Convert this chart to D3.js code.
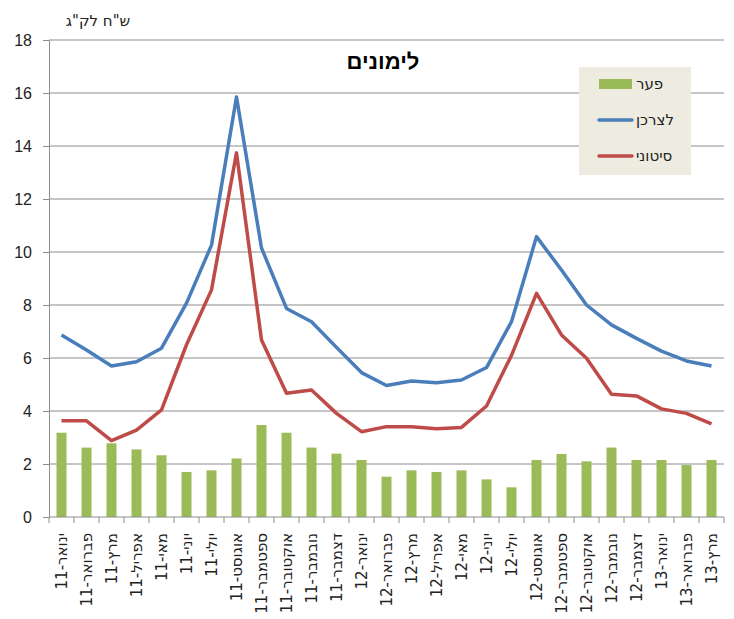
<!DOCTYPE html>
<html>
<head>
<meta charset="utf-8">
<script src="https://cdn.jsdelivr.net/npm/d3@7"></script>
<style>
body { margin: 0; background: #fff; }
svg { font-family: "Liberation Sans", Arial, sans-serif; }
.heb { font-family: "DejaVu Sans", Tahoma, sans-serif; }
</style>
</head>
<body>
<svg id="chart" width="734" height="619"></svg>
<script>
// months, Jan-11 .. Mar-13
var months = ["ינואר-11","פברואר-11","מרץ-11","אפריל-11","מאי-11","יוני-11","יולי-11","אוגוסט-11","ספטמבר-11","אוקטובר-11","נובמבר-11","דצמבר-11",
	"ינואר-12","פברואר-12","מרץ-12","אפריל-12","מאי-12","יוני-12","יולי-12","אוגוסט-12","ספטמבר-12","אוקטובר-12","נובמבר-12","דצמבר-12",
	"ינואר-13","פברואר-13","מרץ-13"];

var consumer = [6.87,6.3,5.7,5.86,6.37,8.07,10.26,15.85,10.15,7.87,7.37,6.4,
	5.45,4.96,5.13,5.07,5.17,5.64,7.37,10.58,9.32,8.0,7.25,6.74,6.26,5.89,5.7];

var wholesale = [3.63,3.63,2.88,3.28,4.04,6.5,8.57,13.74,6.68,4.67,4.79,3.91,
	3.22,3.41,3.41,3.33,3.38,4.19,6.1,8.44,6.87,5.99,4.63,4.57,4.08,3.91,3.51];

var gap = [3.18,2.62,2.78,2.55,2.33,1.7,1.76,2.21,3.47,3.18,2.62,2.39,
	2.15,1.52,1.76,1.7,1.76,1.42,1.12,2.15,2.38,2.1,2.62,2.15,2.15,1.96,2.15];

var yTicks = [0,2,4,6,8,10,12,14,16,18];

var margin = {top: 40, left: 49, right: 10, bottom: 102};
var width = 734 - margin.left - margin.right,
	height = 619 - margin.top - margin.bottom;

var svg = d3.select("#chart");
var g = svg.append("g").attr("transform", "translate(" + margin.left + "," + margin.top + ")");

var x = d3.scaleBand().domain(months).range([0, width]).paddingInner(0.6).paddingOuter(0.3);
var xb = d3.scaleBand().domain(months).range([0, width]);
var y = d3.scaleLinear().domain([0, 18]).range([height, 0]);

// gridlines
g.selectAll("line.grid").data(yTicks.slice(1)).enter().append("line")
	.attr("class", "grid")
	.attr("x1", 0).attr("x2", width)
	.attr("y1", function(d) { return y(d); }).attr("y2", function(d) { return y(d); })
	.attr("stroke", "#8c8c8c").attr("stroke-width", 1);

// y axis
var yAxis = g.append("g").call(d3.axisLeft(y).tickValues(yTicks).tickSize(6).tickSizeOuter(0));
yAxis.select(".domain").attr("stroke", "#8c8c8c");
yAxis.selectAll(".tick line").attr("stroke", "#8c8c8c");
yAxis.selectAll(".tick text").attr("x", -17).style("font-family", "'Liberation Sans', Arial, sans-serif")
	.style("font-size", "16px").attr("fill", "#222");

// bars
g.selectAll("rect.bar").data(gap).enter().append("rect")
	.attr("class", "bar")
	.attr("x", function(d, i) { return x(months[i]); })
	.attr("width", x.bandwidth())
	.attr("y", function(d) { return y(d); })
	.attr("height", function(d) { return height - y(d); })
	.attr("fill", "#9bbb59");

// lines
var line = d3.line()
	.x(function(d, i) { return xb(months[i]) + xb.bandwidth() / 2; })
	.y(function(d) { return y(d); });

g.append("path").datum(consumer).attr("d", line)
	.attr("fill", "none").attr("stroke", "#4a7ebb").attr("stroke-width", 3.5).attr("stroke-linejoin", "round");
g.append("path").datum(wholesale).attr("d", line)
	.attr("fill", "none").attr("stroke", "#be4b48").attr("stroke-width", 3.5).attr("stroke-linejoin", "round");

// x axis
var xAxis = g.append("g").attr("transform", "translate(0," + height + ")");
xAxis.append("line").attr("x1", 0).attr("x2", width).attr("stroke", "#8c8c8c");
xAxis.selectAll("line.tk").data(months.concat(["end"])).enter().append("line")
	.attr("class", "tk")
	.attr("x1", function(d, i) { return i * xb.step(); })
	.attr("x2", function(d, i) { return i * xb.step(); })
	.attr("y1", 0).attr("y2", 6)
	.attr("stroke", "#8c8c8c");
xAxis.selectAll("text").data(months).enter().append("text")
	.attr("class", "heb")
	.attr("transform", function(d) { return "translate(" + (xb(d) + xb.bandwidth() / 2) + ",16) rotate(-90)"; })
	.attr("text-anchor", "end")
	.attr("dy", "0.35em")
	.style("font-size", "15px")
	.attr("fill", "#222")
	.text(function(d) { return d; });

// title and unit
svg.append("text").attr("x", 383).attr("y", 69).attr("text-anchor", "middle")
	.style("font-size", "22px").style("font-weight", "bold").text("לימונים");
svg.append("text").attr("class", "heb").attr("x", 98).attr("y", 26).attr("text-anchor", "middle")
	.style("font-size", "15px").attr("fill", "#222").text("ש\"ח לק\"ג");

// legend
var legend = svg.append("g").attr("transform", "translate(579,67)");
legend.append("rect").attr("width", 112).attr("height", 108).attr("fill", "#eeece1");
var legendItems = [
	{name: "פער", color: "#9bbb59", type: "bar"},
	{name: "לצרכן", color: "#4a7ebb", type: "line"},
	{name: "סיטוני", color: "#be4b48", type: "line"}
];
var li = legend.selectAll("g.item").data(legendItems).enter().append("g")
	.attr("class", "item")
	.attr("transform", function(d, i) { return "translate(0," + (17 + i * 36) + ")"; });
li.each(function(d) {
	var s = d3.select(this);
	if (d.type == "bar") s.append("rect").attr("x", 20).attr("y", -5).attr("width", 33).attr("height", 10).attr("fill", d.color);
	else s.append("line").attr("x1", 20).attr("x2", 53).attr("stroke", d.color).attr("stroke-width", 3.5).attr("stroke-linecap", "round");
});
li.append("text").attr("class", "heb").attr("x", 57).attr("dy", "0.35em").style("font-size", "15px").attr("fill", "#222")
	.text(function(d) { return d.name; });
</script>
</body>
</html>
